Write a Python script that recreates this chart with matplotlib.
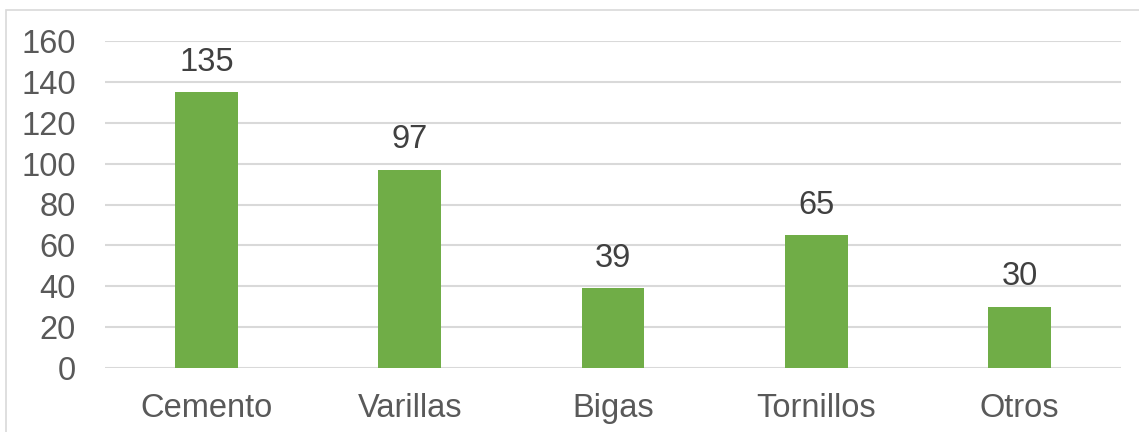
import matplotlib.pyplot as plt
from matplotlib.patches import Rectangle

# materiales y cantidades
categorias = ['Cemento', 'Varillas', 'Bigas', 'Tornillos', 'Otros']
cantidades = [135, 97, 39, 65, 30]
yticks = [0, 20, 40, 60, 80, 100, 120, 140, 160]

plt.rcParams['font.family'] = ['Liberation Sans', 'DejaVu Sans']

fig = plt.figure(figsize=(11.39, 4.32), dpi=100)
ax = fig.add_axes([105 / 1139, 64 / 432, 1016 / 1139, 327 / 432])

# marco exterior del grafico
fig.patches.append(Rectangle((6 / 1139, -0.1), 1.2, (432 - 10) / 432 + 0.1,
                             transform=fig.transFigure, fill=False,
                             edgecolor='#d9d9d9', linewidth=1.2))

x = range(len(categorias))
bars = ax.bar(x, cantidades, width=0.31, color='#70ad47', zorder=3)

for b, v in zip(bars, cantidades):
    ax.text(b.get_x() + b.get_width() / 2, v + 7, str(v), ha='center',
            va='bottom', fontsize=23.5, color='#404040')

ax.set_xlim(-0.5, len(categorias) - 0.5)
ax.set_ylim(0, 160)
ax.set_yticks(yticks)
ax.set_xticks(list(x))
ax.set_xticklabels(categorias)
ax.tick_params(axis='both', length=0, labelsize=23.5, labelcolor='#595959')
ax.tick_params(axis='x', pad=18)
ax.tick_params(axis='y', pad=21)
ax.grid(axis='y', color='#d9d9d9', linewidth=1.5, zorder=0)
for s in ax.spines.values():
    s.set_visible(False)

fig.savefig('out.png', dpi=100)
